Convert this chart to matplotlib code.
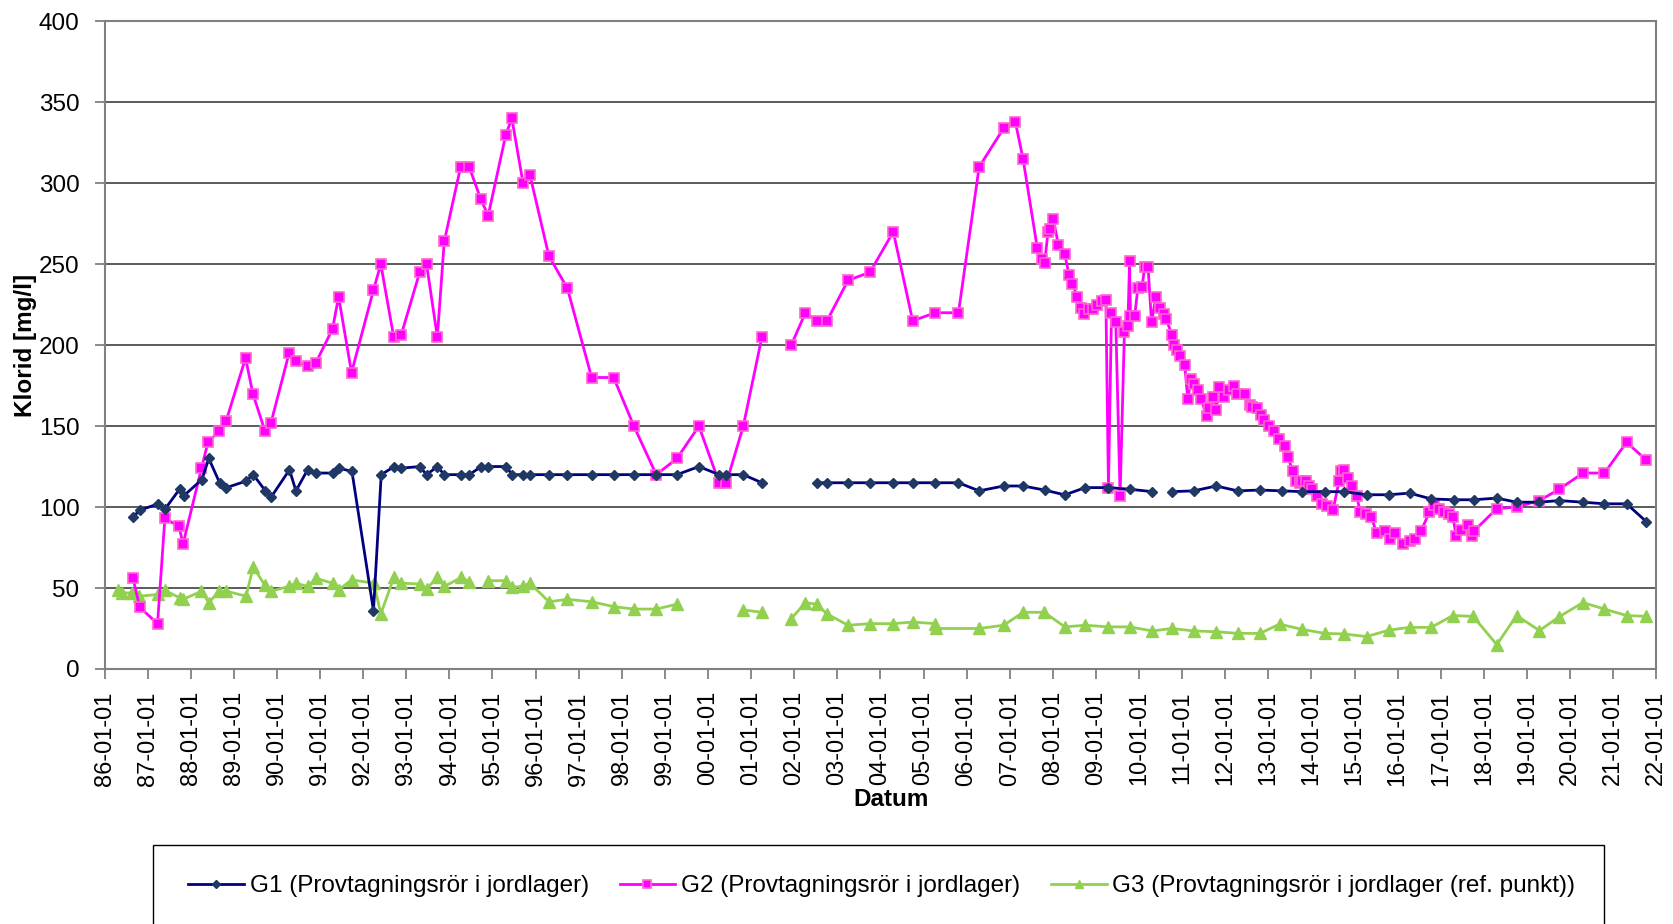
import numpy as np
import pandas as pd
import matplotlib
matplotlib.use("Agg")
import matplotlib.pyplot as plt
import matplotlib.dates as mdates
from matplotlib.patches import Rectangle

plt.rcParams['font.family'] = ['Liberation Sans', 'DejaVu Sans']

nan = np.nan

# decimal years, nan = break in the line
g1_t = [1986.66, 1986.82, 1987.24, 1987.41, 1987.74, 1987.84, 1988.26, 1988.42, 1988.67, 1988.83,
        1989.28, 1989.45, 1989.73, 1989.86, 1990.29, 1990.44, 1990.71, 1990.90, 1991.29, 1991.44,
        1991.74, 1992.24, 1992.42, 1992.72, 1992.88, 1993.31, 1993.47, 1993.72, 1993.88, 1994.28,
        1994.46, 1994.74, 1994.90, 1995.31, 1995.46, 1995.71, 1995.88, 1996.31, 1996.74, 1997.30,
        1997.81, 1998.28, 1998.80, 1999.28, 1999.79, 2000.26, 2000.43, 2000.82, 2001.25, 2001.9,
        2002.52, 2002.76, 2003.25, 2003.76, 2004.30, 2004.75, 2005.27, 2005.81, 2006.29, 2006.86,
        2007.31, 2007.81, 2008.28, 2008.75, 2009.29, 2009.78, 2010.31, 2010.5, 2010.76, 2011.27,
        2011.79, 2012.29, 2012.81, 2013.31, 2013.79, 2014.31, 2014.76, 2015.28, 2015.80, 2016.28,
        2016.78, 2017.30, 2017.76, 2018.30, 2018.76, 2019.29, 2019.75, 2020.30, 2020.80, 2021.31,
        2021.77]
g1_v = [94, 98, 102, 99, 111, 107, 117, 130, 115, 112,
        116, 120, 110, 106, 123, 110, 123, 121, 121, 124,
        122, 36, 120, 125, 124, 125, 120, 125, 120, 120,
        120, 125, 125, 125, 120, 120, 120, 120, 120, 120,
        120, 120, 120, 120, 125, 120, 120, 120, 115, nan,
        115, 115, 115, 115, 115, 115, 115, 115, 110, 113,
        113, 110.5, 107.5, 112, 112, 111, 109.5, nan, 109.5, 110,
        113, 110, 110.5, 110, 109.5, 109.5, 109.5, 107.6, 107.6, 108.6,
        105, 104.5, 104.5, 105.5, 103, 103, 104, 103, 102, 102,
        91]

g2_t = [1986.66, 1986.82, 1987.23, 1987.40, 1987.73, 1987.82, 1988.25, 1988.40, 1988.66, 1988.82,
        1989.27, 1989.44, 1989.72, 1989.86, 1990.28, 1990.44, 1990.71, 1990.90, 1991.29, 1991.43,
        1991.73, 1992.24, 1992.41, 1992.71, 1992.88, 1993.31, 1993.47, 1993.72, 1993.88, 1994.26,
        1994.46, 1994.73, 1994.90, 1995.31, 1995.45, 1995.71, 1995.87, 1996.31, 1996.74, 1997.30,
        1997.81, 1998.28, 1998.80, 1999.28, 1999.79, 2000.26, 2000.43, 2000.82, 2001.25, 2001.6,
        2001.93, 2002.26, 2002.52, 2002.76, 2003.25, 2003.76, 2004.30, 2004.75, 2005.27, 2005.81,
        2006.29, 2006.86, 2007.13, 2007.31, 2007.64, 2007.74, 2007.81, 2007.89, 2007.94, 2008.01,
        2008.13, 2008.28, 2008.38, 2008.45, 2008.57, 2008.65, 2008.73, 2008.83, 2008.93, 2009.03,
        2009.13, 2009.23, 2009.29, 2009.36, 2009.46, 2009.56, 2009.66, 2009.74, 2009.78, 2009.80,
        2009.90, 2009.97, 2010.07, 2010.13, 2010.21, 2010.29, 2010.39, 2010.49, 2010.58, 2010.63,
        2010.77, 2010.81, 2010.87, 2010.96, 2011.06, 2011.13, 2011.21, 2011.28, 2011.38, 2011.44,
        2011.57, 2011.62, 2011.72, 2011.79, 2011.86, 2011.98, 2012.10, 2012.21, 2012.28, 2012.45,
        2012.57, 2012.62, 2012.74, 2012.83, 2012.91, 2013.01, 2013.14, 2013.24, 2013.39, 2013.45,
        2013.57, 2013.65, 2013.73, 2013.79, 2013.87, 2013.95, 2014.02, 2014.14, 2014.25, 2014.37,
        2014.50, 2014.64, 2014.69, 2014.76, 2014.85, 2014.95, 2015.05, 2015.13, 2015.26, 2015.39,
        2015.51, 2015.70, 2015.82, 2015.93, 2016.13, 2016.28, 2016.41, 2016.54, 2016.74, 2016.84,
        2016.95, 2017.07, 2017.18, 2017.28, 2017.36, 2017.48, 2017.62, 2017.72, 2017.76, 2018.30,
        2018.76, 2019.29, 2019.75, 2020.30, 2020.80, 2021.31, 2021.77]
g2_v = [56, 38, 28, 93, 88, 77, 124, 140, 147, 153,
        192, 170, 147, 152, 195, 190, 187, 189, 210, 230,
        183, 234, 250, 205, 206, 245, 250, 205, 264, 310,
        310, 290, 280, 330, 340, 300, 305, 255, 235, 180,
        180, 150, 120, 130, 150, 115, 115, 150, 205, nan,
        200, 220, 215, 215, 240, 245, 270, 215, 220, 220,
        310, 334, 338, 315, 260, 253, 251, 270, 272, 278,
        262, 256, 243, 238, 230, 223, 219, 222, 222, 225,
        227, 228, 112, 220, 214, 107, 208, 212, 252, 218,
        218, 235, 236, 248, 248, 214, 230, 223, 219, 216,
        206, 200, 197, 193, 188, 167, 179, 176, 172, 167,
        156, 161, 168, 160, 174, 168, 172, 175, 170, 170,
        163, 162, 161, 157, 154, 150, 147, 142, 138, 131,
        122, 116, 115, 116, 116, 113, 111, 107, 102, 100.5,
        98, 116, 122, 123, 118, 113, 107, 97, 96, 94,
        84, 85, 80, 84, 77, 79, 80, 85, 97, 101,
        99, 97, 96, 94, 82, 86, 89, 82, 85, 99,
        100, 104, 111, 121, 121, 140, 129]

g3_t = [1986.31, 1986.41, 1986.64, 1986.81, 1987.24, 1987.40, 1987.74, 1987.82, 1988.25, 1988.42,
        1988.66, 1988.83, 1989.28, 1989.45, 1989.71, 1989.86, 1990.28, 1990.44, 1990.71, 1990.90,
        1991.29, 1991.44, 1991.73, 1992.25, 1992.41, 1992.72, 1992.88, 1993.31, 1993.47, 1993.72,
        1993.88, 1994.28, 1994.46, 1994.7, 1994.90, 1995.31, 1995.45, 1995.71, 1995.87, 1996.31,
        1996.74, 1997.30, 1997.81, 1998.28, 1998.80, 1999.28, 2000.0, 2000.82, 2001.25, 2001.6,
        2001.93, 2002.26, 2002.52, 2002.76, 2003.25, 2003.76, 2004.30, 2004.75, 2005.27, 2005.30,
        2006.29, 2006.86, 2007.31, 2007.80, 2008.28, 2008.75, 2009.29, 2009.78, 2010.31, 2010.76,
        2011.27, 2011.79, 2012.29, 2012.81, 2013.26, 2013.79, 2014.31, 2014.76, 2015.28, 2015.80,
        2016.28, 2016.78, 2017.28, 2017.75, 2018.30, 2018.76, 2019.29, 2019.75, 2020.30, 2020.80,
        2021.31, 2021.77]
g3_v = [49, 47, 47, 45, 46, 48.5, 44, 43, 48, 41,
        48, 48, 45, 63, 52, 48, 51, 53, 51, 56,
        53, 49, 55, 53, 34, 57, 53, 52.5, 49.5, 56.5,
        51, 56.5, 54, nan, 54.5, 54.5, 50.5, 51, 53, 41.5,
        43, 41.5, 38.5, 37, 37, 40, nan, 36.5, 35, nan,
        31, 41, 40, 34, 27, 28, 28, 29, 28, 25,
        25, 27, 35, 35, 26, 27, 26, 26, 23.5, 25,
        23.5, 23, 22, 22, 27.7, 24.4, 22, 21.6, 20, 24,
        25.7, 25.7, 33, 32.5, 15, 33, 23.7, 32.3, 41, 37,
        33, 32.5]

labels = ["G1 (Provtagningsrör i jordlager)",
          "G2 (Provtagningsrör i jordlager)",
          "G3 (Provtagningsrör i jordlager (ref. punkt))"]


def to_dates(dec):
    dec = np.asarray(dec)
    yr = np.floor(dec).astype(int)
    start = pd.to_datetime([f"{y}-01-01" for y in yr])
    return start + pd.to_timedelta((dec - yr) * 365.25, unit="D")


fig = plt.figure(figsize=(16.73, 9.24), dpi=100)
ax = fig.add_axes([0.0625, 0.276, 0.9275, 0.701])

ax.plot(to_dates(g1_t), g1_v, color='#000080', lw=2.0, marker='D', ms=5,
        mfc='#1F3864', mec='#1F3864', label=labels[0], zorder=4)
ax.plot(to_dates(g2_t), g2_v, color='#FF00FF', lw=2.0, marker='s', ms=6.5,
        mfc='#FF00FF', mec='#FF66CC', mew=1.2, label=labels[1], zorder=3)
ax.plot(to_dates(g3_t), g3_v, color='#92D050', lw=2.0, marker='^', ms=8,
        mfc='#92D050', mec='#92D050', label=labels[2], zorder=2)

ax.set_ylim(0, 400)
ax.set_yticks(np.arange(0, 401, 50))
ax.set_xlim(pd.Timestamp('1986-01-01'), pd.Timestamp('2022-01-01'))
ax.xaxis.set_major_locator(mdates.YearLocator(1))
ax.xaxis.set_major_formatter(mdates.DateFormatter('%y-%m-%d'))
plt.setp(ax.get_xticklabels(), rotation=90)

ax.grid(axis='y', color='#404040', lw=1.2)
ax.set_axisbelow(True)
for s in ax.spines.values():
    s.set_color('#808080')
    s.set_linewidth(1.5)
ax.tick_params(axis='x', labelsize=17, length=7, color='#808080', width=1.3, pad=9)
ax.tick_params(axis='y', labelsize=17.5, length=7, color='#808080', width=1.3, pad=11)

ax.set_ylabel('Klorid [mg/l]', fontsize=17.5, fontweight='bold', labelpad=1)
ax.set_xlabel('Datum', fontsize=17.5, fontweight='bold')
ax.xaxis.set_label_coords(0.507, -0.183)

# legend box runs off the bottom of the figure
fig.patches.append(Rectangle((0.0915, -0.01), 0.867, 0.095, transform=fig.transFigure,
                             fill=False, ec='black', lw=1.0))
fig.legend(loc='center', bbox_to_anchor=(0.527, 0.041), ncol=3, frameon=False,
           fontsize=17.5, handlelength=2.3, handletextpad=0.22, columnspacing=1.27,
           markerscale=0.8)

fig.savefig('out.png', dpi=100)
